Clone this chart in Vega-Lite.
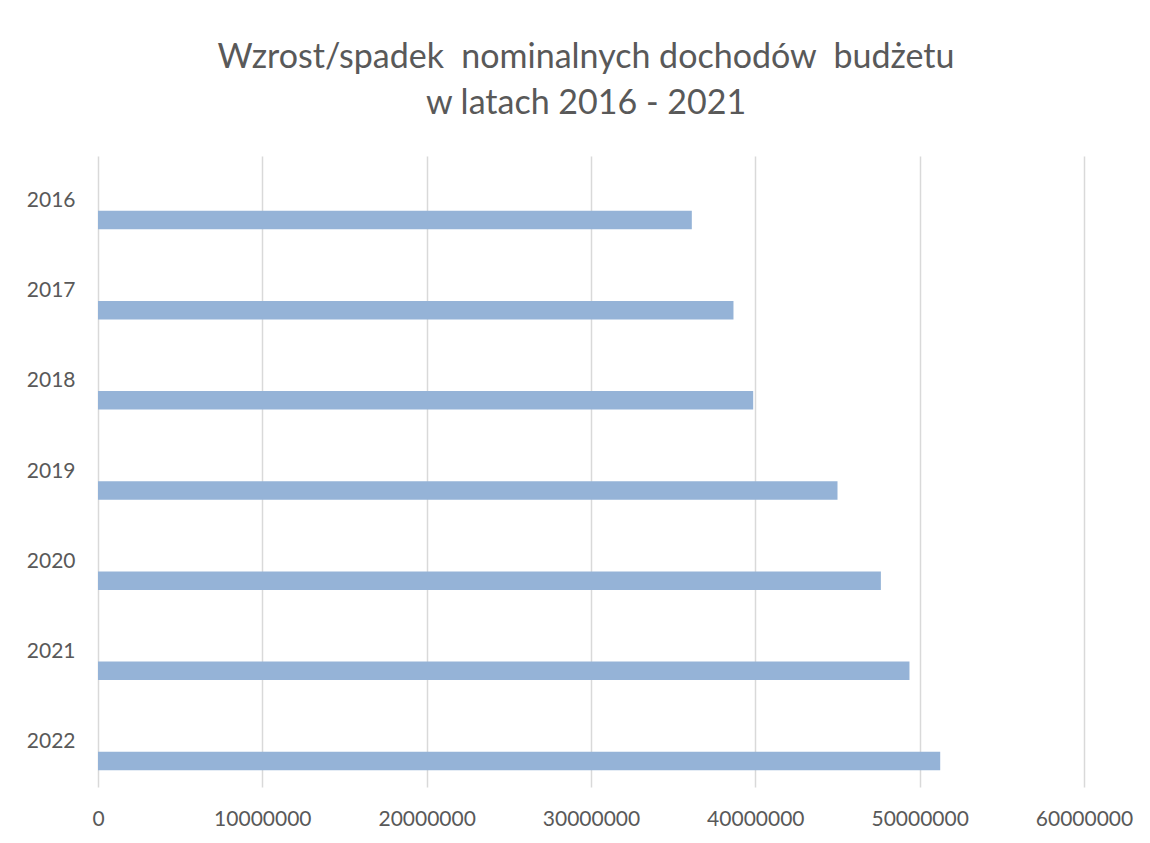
{
  "$schema": "https://vega.github.io/schema/vega-lite/v6.json",
  "autosize": "none",
  "width": 986,
  "height": 631,
  "padding": {"left": 98, "top": 156, "right": 66, "bottom": 56},
  "background": "white",
  "title": {
    "text": ["Wzrost/spadek \u00a0nominalnych dochodów \u00a0budżetu", "w latach 2016 - 2021"],
    "font": "Lato",
    "fontSize": 34,
    "fontWeight": "normal",
    "color": "#595959",
    "anchor": "middle",
    "dx": -5,
    "offset": 35,
    "lineHeight": 46
  },
  "data": {
    "values": [
      {"rok": "2016", "dochody": 36135000},
      {"rok": "2017", "dochody": 38670000},
      {"rok": "2018", "dochody": 39870000},
      {"rok": "2019", "dochody": 45000000},
      {"rok": "2020", "dochody": 47640000},
      {"rok": "2021", "dochody": 49380000},
      {"rok": "2022", "dochody": 51250000}
    ]
  },
  "mark": {"type": "bar", "color": "#95b3d7", "height": 18.5, "yOffset": 19},
  "encoding": {
    "y": {
      "field": "rok",
      "type": "nominal",
      "sort": null,
      "scale": {"paddingInner": 0, "paddingOuter": 0},
      "axis": {
        "title": null,
        "domain": false,
        "ticks": false,
        "grid": false,
        "labelFont": "Lato",
        "labelFontSize": 21,
        "labelColor": "#595959",
        "labelPadding": 23
      }
    },
    "x": {
      "field": "dochody",
      "type": "quantitative",
      "scale": {"domain": [0, 60000000], "nice": false},
      "axis": {
        "title": null,
        "values": [0, 10000000, 20000000, 30000000, 40000000, 50000000, 60000000],
        "format": "d",
        "domain": false,
        "ticks": false,
        "grid": true,
        "gridColor": "#d9d9d9",
        "gridWidth": 1.5,
        "labelFont": "Lato",
        "labelFontSize": 21,
        "labelColor": "#595959",
        "labelPadding": 21,
        "labelFlush": false,
        "labelOverlap": false
      }
    }
  },
  "config": {"view": {"stroke": null}}
}
